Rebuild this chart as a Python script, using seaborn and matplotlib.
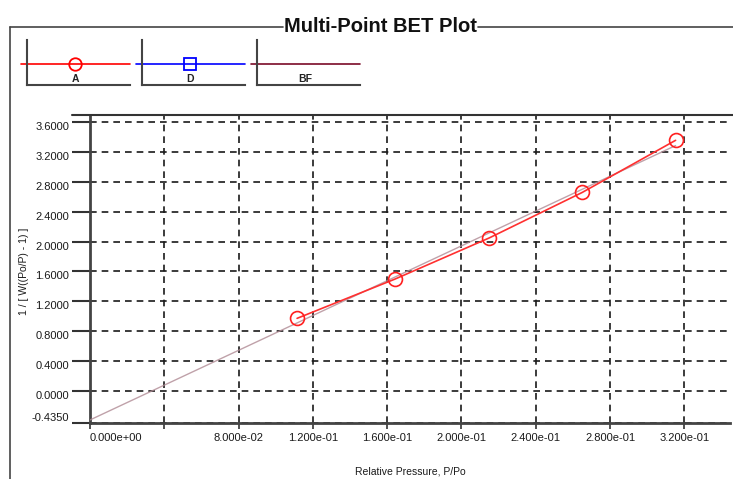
import numpy as np
import pandas as pd
import seaborn as sns
import matplotlib.pyplot as plt
from matplotlib.lines import Line2D

# data
rel_pressure = [0.1115, 0.1640, 0.2150, 0.2650, 0.3153]
bet_value = [0.970, 1.495, 2.050, 2.660, 3.360]
bf_x = [0.0, 0.3153]
bf_y = [-0.394, 3.290]
x_ticks = [0.0, 0.04, 0.08, 0.12, 0.16, 0.20, 0.24, 0.28, 0.32]
y_ticks = [-0.435, 0.0, 0.4, 0.8, 1.2, 1.6, 2.0, 2.4, 2.8, 3.2, 3.6]
legend_names = ["A", "D", "BF"]
legend_colors = ["#ff0000", "#0000ff", "#7a0a28"]
legend_markers = ["o", "s", None]

sns.set_style("white")
plt.rcParams['font.family'] = ['Liberation Sans', 'DejaVu Sans']

W, H = 733, 479
fig = plt.figure(figsize=(W / 100, H / 100), dpi=100)


def fx(px):
    return px / W


def fy(py):
    return 1 - py / H


ax = fig.add_axes([fx(90), fy(423), fx(730) - fx(90), fy(115) - fy(423)])

df = pd.DataFrame({"x": rel_pressure, "y": bet_value})
bf = pd.DataFrame({"x": bf_x, "y": bf_y})

sns.lineplot(data=bf, x="x", y="y", ax=ax, color="#b08a94", lw=1.0, alpha=0.8, zorder=3)
sns.lineplot(data=df, x="x", y="y", ax=ax, color="#ff3030", lw=1.2, marker="o",
             markersize=10, markerfacecolor="none", markeredgecolor="#ff2020",
             markeredgewidth=1.2, zorder=4)

ax.set_xlim(0, 0.3446)
ax.set_ylim(-0.435, 3.70)
ax.set_xticks(x_ticks)
ax.set_yticks(y_ticks)
xlabels = ["%.3e" % v for v in x_ticks]
xlabels[1] = ""
ax.set_xticklabels(xlabels)
ax.set_yticklabels(["%.4f" % v for v in y_ticks])
ax.grid(True, color="#1a1a1a", linestyle=(0, (4, 3)), lw=1.2)

ax.tick_params(axis="y", direction="out", length=13, width=1.5, color="#333333",
               labelsize=8, pad=2, left=True, labelcolor="#1a1a1a")
ax.tick_params(axis="x", direction="out", length=4, width=1.2, color="#333333",
               labelsize=8, pad=3, bottom=True, labelcolor="#1a1a1a")

for lab in ax.get_yticklabels():
    lab.set_va("top")
ax.get_yticklabels()[0].set_va("bottom")
ax.get_xticklabels()[0].set_ha("left")

for side in ["left", "bottom"]:
    ax.spines[side].set_color("#444444")
    ax.spines[side].set_linewidth(2)
ax.spines["top"].set_visible(False)
ax.spines["right"].set_visible(False)

ax.set_xlabel("Relative Pressure, P/Po", fontsize=7.5, color="#1a1a1a")
ax.xaxis.set_label_coords(0.5, -0.14)
ax.set_ylabel("1 / [ W((Po/P) - 1) ]", fontsize=7.5, color="#1a1a1a")
ax.yaxis.set_label_coords(-0.095, 0.4935)

# top border of plot region and outer frame
fig.add_artist(Line2D([fx(72), fx(733)], [fy(115), fy(115)], color="#333333", lw=1.5))
fig.add_artist(Line2D([fx(10), fx(10)], [fy(27), fy(479)], color="#444444", lw=1.2))
fig.add_artist(Line2D([fx(10), fx(283)], [fy(27), fy(27)], color="#444444", lw=1.2))
fig.add_artist(Line2D([fx(478), fx(733)], [fy(27), fy(27)], color="#444444", lw=1.2))
fig.text(fx(380), fy(27), "Multi-Point BET Plot", ha="center", va="center",
         fontsize=14.5, fontweight="bold", color="#111111")

# legend boxes
box_left = [27, 142, 257]
for name, col, mk, bx in zip(legend_names, legend_colors, legend_markers, box_left):
    lax = fig.add_axes([fx(bx), fy(85), fx(bx + 103) - fx(bx), fy(40) - fy(85)])
    lax.set_xlim(0, 1)
    lax.set_ylim(0, 1)
    lax.set_facecolor("none")
    lax.set_xticks([0])
    lax.set_yticks([0])
    lax.set_xticklabels([])
    lax.set_yticklabels([])
    lax.tick_params(direction="out", length=4, width=1.5, color="#444444")
    for side in ["top", "right"]:
        lax.spines[side].set_visible(False)
    for side in ["left", "bottom"]:
        lax.spines[side].set_color("#444444")
        lax.spines[side].set_linewidth(1.5)
    lax.plot([-0.06, 1.0], [0.47, 0.47], color=col, lw=1.2, clip_on=False)
    if mk:
        lax.plot([0.47], [0.47], marker=mk, color=col, markersize=9,
                 markerfacecolor="none", markeredgewidth=1.3, clip_on=False)
    lax.text(0.47, 0.14, name, ha="center", va="center", fontsize=7.5,
             fontweight="bold", color="#222222")

fig.savefig("out.png", dpi=100)
